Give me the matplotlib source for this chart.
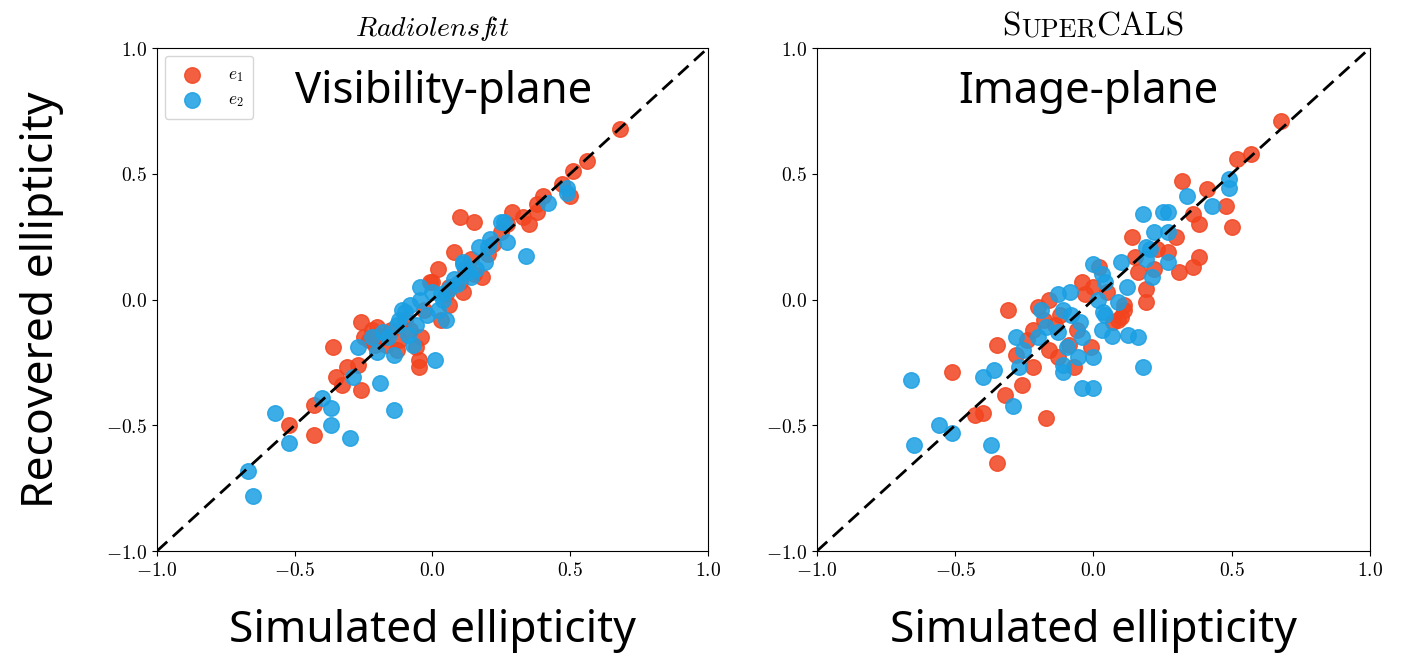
import numpy as np
import matplotlib
matplotlib.use("Agg")
import matplotlib.pyplot as plt
from matplotlib.ticker import FuncFormatter

plt.rcParams['mathtext.fontset'] = 'cm'

# ---- data (simulated, recovered) ----
vis_e1_sim = [0.68, 0.56, 0.51, 0.47, 0.50, 0.40, 0.38, 0.38, 0.29, 0.33, 0.35, 0.10, 0.15, 0.25,
              0.08, 0.02, 0.14, 0.18, -0.01, 0.11, 0.00, 0.03, -0.04, -0.05, -0.06, -0.05, -0.26,
              -0.36, -0.20, -0.25, -0.35, -0.31, -0.33, -0.26, -0.27, -0.43, -0.52, -0.43, -0.22,
              -0.23, -0.18, -0.15, -0.12, -0.10, -0.08, -0.03, 0.05, 0.06, 0.10, 0.15, 0.20, -0.13,
              -0.17, -0.21, 0.06, 0.12, 0.22, 0.27]
vis_e1_rec = [0.68, 0.55, 0.51, 0.46, 0.41, 0.41, 0.38, 0.35, 0.35, 0.33, 0.30, 0.33, 0.31, 0.27,
              0.19, 0.12, 0.16, 0.09, 0.07, 0.03, 0.07, -0.08, -0.15, -0.24, -0.19, -0.27, -0.09,
              -0.19, -0.11, -0.15, -0.31, -0.27, -0.34, -0.36, -0.26, -0.42, -0.50, -0.54, -0.12,
              -0.16, -0.15, -0.12, -0.16, -0.08, -0.12, -0.04, 0.02, 0.05, 0.07, 0.10, 0.18, -0.20,
              -0.18, -0.18, -0.02, 0.12, 0.22, 0.30]

vis_e2_sim = [0.49, 0.49, 0.42, 0.26, 0.25, 0.27, 0.34, 0.17, 0.21, 0.19, 0.11, 0.13, 0.08, 0.03,
              0.00, -0.045, -0.11, -0.12, -0.045, 0.05, 0.14, 0.11, 0.20, -0.18, -0.27, -0.14,
              -0.07, -0.20, -0.09, -0.16, 0.01, -0.29, -0.19, -0.40, -0.37, -0.57, -0.37, -0.52,
              -0.30, -0.14, -0.67, -0.65, -0.10, -0.08, -0.02, 0.02, 0.06, -0.13, -0.22, 0.09,
              0.16, -0.06, 0.04]
vis_e2_rec = [0.445, 0.425, 0.385, 0.31, 0.31, 0.23, 0.175, 0.21, 0.24, 0.15, 0.15, 0.11, 0.08,
              0.02, 0.03, 0.05, -0.04, -0.08, 0.00, -0.08, 0.09, 0.14, 0.21, -0.13, -0.19, -0.22,
              -0.18, -0.21, -0.14, -0.15, -0.24, -0.31, -0.33, -0.39, -0.43, -0.45, -0.50, -0.57,
              -0.55, -0.44, -0.68, -0.78, -0.05, -0.02, -0.06, -0.04, 0.04, -0.10, -0.15, 0.06,
              0.12, -0.10, 0.00]

img_e1_sim = [0.68, 0.57, 0.52, 0.32, 0.41, 0.48, 0.50, 0.36, 0.38, 0.30, 0.14, 0.23, 0.27, 0.38,
              0.36, 0.31, 0.15, 0.16, 0.19, 0.19, 0.02, -0.04, 0.11, 0.09, -0.31, -0.35, -0.51,
              -0.22, -0.26, -0.32, -0.43, -0.40, -0.35, -0.17, -0.07, 0.00, -0.16, 0.11, 0.10,
              -0.18, 0.07, -0.24, -0.16, -0.13, -0.01, -0.20, -0.22, -0.12, -0.06, 0.05, -0.28,
              -0.09, 0.22, -0.14, -0.03]
img_e1_rec = [0.71, 0.58, 0.56, 0.47, 0.44, 0.37, 0.29, 0.34, 0.30, 0.25, 0.25, 0.20, 0.19, 0.17,
              0.13, 0.11, 0.17, 0.11, 0.04, -0.01, 0.13, 0.07, -0.02, -0.08, -0.04, -0.18, -0.29,
              -0.27, -0.34, -0.38, -0.46, -0.45, -0.65, -0.47, -0.27, 0.05, 0.00, -0.04, -0.07,
              -0.08, -0.09, -0.16, -0.20, -0.23, -0.19, -0.03, -0.12, -0.06, -0.12, 0.03, -0.22,
              -0.18, 0.12, -0.10, 0.02]

img_e2_sim = [0.49, 0.49, 0.34, 0.43, 0.18, 0.25, 0.27, 0.27, 0.22, 0.19, 0.27, 0.19, 0.21, 0.12,
              0.10, 0.00, 0.03, 0.09, 0.035, 0.205, 0.04, -0.13, -0.085, 0.016, -0.19, -0.11,
              -0.08, -0.05, 0.04, 0.03, 0.067, -0.17, -0.28, -0.255, -0.20, -0.13, -0.095, -0.04,
              0.00, -0.056, -0.11, -0.11, -0.04, 0.00, 0.18, 0.125, 0.16, -0.66, -0.40, -0.36,
              -0.27, -0.29, -0.56, -0.51, -0.65, -0.37]
img_e2_rec = [0.48, 0.445, 0.41, 0.37, 0.34, 0.35, 0.35, 0.27, 0.27, 0.21, 0.15, 0.16, 0.09, 0.05,
              0.15, 0.14, 0.10, -0.01, -0.05, 0.20, 0.07, 0.02, 0.03, 0.00, -0.04, -0.04, -0.06,
              -0.09, -0.06, -0.12, -0.147, -0.11, -0.15, -0.20, -0.15, -0.13, -0.19, -0.15, -0.23,
              -0.23, -0.26, -0.29, -0.35, -0.35, -0.27, -0.14, -0.15, -0.32, -0.31, -0.28, -0.27,
              -0.425, -0.50, -0.53, -0.58, -0.58]

ticks = [-1.0, -0.5, 0.0, 0.5, 1.0]

red = '#f2441f'
blue = '#1a9fe3'
sans = 'Noto Sans'

fig = plt.figure(figsize=(14.09, 6.57), dpi=100)
ax1 = fig.add_axes([0.1114, 0.1613, 0.391, 0.7656])
ax2 = fig.add_axes([0.5798, 0.1613, 0.3925, 0.7656])

fmt = FuncFormatter(lambda v, p: '$%.1f$' % v)

for ax, (e1s, e1r, e2s, e2r), label in [
        (ax1, (vis_e1_sim, vis_e1_rec, vis_e2_sim, vis_e2_rec), 'Visibility-plane'),
        (ax2, (img_e1_sim, img_e1_rec, img_e2_sim, img_e2_rec), 'Image-plane')]:
    ax.scatter(e1s, e1r, s=125, color=red, alpha=0.85, label='$e_1$', zorder=2)
    ax.scatter(e2s, e2r, s=125, color=blue, alpha=0.85, label='$e_2$', zorder=3)
    ax.plot([-1, 1], [-1, 1], 'k--', lw=2.0, dashes=(5, 2.7), zorder=4)
    ax.set_xlim(-1, 1)
    ax.set_ylim(-1, 1)
    ax.set_xticks(ticks)
    ax.set_yticks(ticks)
    ax.xaxis.set_major_formatter(fmt)
    ax.yaxis.set_major_formatter(fmt)
    ax.tick_params(labelsize=14)
    ax.set_xlabel('Simulated ellipticity', fontsize=32, family=sans, labelpad=21)
    ax.text(0.52 if ax is ax1 else 0.49, 0.913, label, transform=ax.transAxes,
            ha='center', va='center', fontsize=31.5, family=sans)

ax1.set_ylabel('Recovered ellipticity', fontsize=32, family=sans, labelpad=30)
ax1.legend(loc='upper left', fontsize=12.5, markerscale=1.0, borderpad=0.55,
           handletextpad=1.1, labelspacing=0.35, borderaxespad=0.45)
ax1.set_title(r'$\mathit{Radiolensf\!it}$', fontsize=20, pad=9)

# SuperCALS title in small caps built from pieces
t1 = ax2.text(0.3, 1.025, 'S', transform=ax2.transAxes, fontsize=24, family='cmr10',
              ha='left', va='baseline')
t2 = ax2.annotate('UPER', xy=(1, 0), xycoords=t1, fontsize=19, family='cmr10',
                  ha='left', va='bottom')
t3 = ax2.annotate('CALS', xy=(1, 0), xycoords=t2, fontsize=24, family='cmr10',
                  ha='left', va='bottom')

# centre the small-caps title over the right panel
fig.canvas.draw()
r = fig.canvas.get_renderer()
x0 = t1.get_window_extent(r).x0
x1 = t3.get_window_extent(r).x1
ab = ax2.get_window_extent(r)
shift = (ab.x0 + ab.width / 2 - (x0 + x1) / 2) / ab.width
t1.set_x(0.3 + shift)

fig.savefig('out.png', dpi=100)
